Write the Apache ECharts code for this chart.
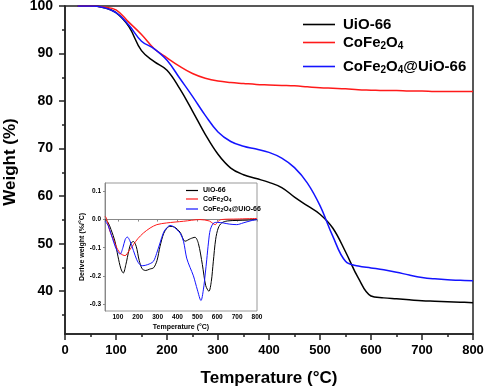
<!DOCTYPE html>
<html>
<head>
<meta charset="utf-8">
<script src="https://cdn.jsdelivr.net/npm/echarts@6/dist/echarts.min.js"></script>
<style>
  html, body { margin: 0; padding: 0; background: #fff; }
  #TgaChart { width: 484px; height: 388px; }
</style>
</head>
<body>
<div id="TgaChart"></div>
<script>
// main TGA curves (weight %, sampled every 25 °C)
const tgaTemp = [25, 50, 75, 100, 125, 150, 175, 200, 225, 250, 275, 300, 325, 350, 375, 400,
  425, 450, 475, 500, 525, 550, 575, 600, 625, 650, 675, 700, 725, 750, 775, 800];
const tgaUio = [100, 100, 99.7, 98.6, 95.7, 90.6, 88.3, 86.5, 82.6, 77.9, 73.0, 68.8, 65.9, 64.5, 63.7, 62.9,
  61.8, 59.8, 58.0, 56.2, 53.3, 48.3, 42.8, 39.0, 38.6, 38.4, 38.2, 38.0, 37.9, 37.8, 37.7, 37.6];
const tgaCfo = [100, 100, 99.8, 99.2, 96.6, 94.0, 91.0, 89.1, 87.3, 85.8, 84.8, 84.2, 83.9, 83.7, 83.5, 83.4,
  83.3, 83.2, 83.0, 82.8, 82.7, 82.6, 82.4, 82.3, 82.2, 82.2, 82.1, 82.1, 82.0, 82.0, 82.0, 82.0];
const tgaComp = [100, 100, 99.7, 98.6, 96.0, 92.6, 91.0, 88.6, 84.8, 81.0, 77.0, 73.5, 71.5, 70.5, 69.9, 69.2,
  68.0, 66.0, 62.8, 58.0, 51.6, 46.3, 45.3, 44.9, 44.5, 44.0, 43.4, 42.9, 42.6, 42.4, 42.3, 42.2];

// inset DTG curves, [temperature, %/°C]
const dtgUio = [[35, 0], [50, -0.01], [65, -0.035], [85, -0.077], [100, -0.13], [115, -0.175], [127, -0.19],
  [140, -0.16], [155, -0.11], [165, -0.085], [178, -0.078], [192, -0.095], [207, -0.145], [222, -0.175],
  [240, -0.181], [260, -0.176], [280, -0.171], [297, -0.145], [312, -0.095], [330, -0.05], [347, -0.03],
  [362, -0.024], [385, -0.027], [413, -0.045], [438, -0.077], [465, -0.068], [488, -0.063], [505, -0.085],
  [525, -0.16], [542, -0.235], [558, -0.255], [570, -0.22], [580, -0.15], [592, -0.07], [605, -0.03],
  [622, -0.012], [650, -0.005], [700, -0.003], [750, -0.002], [800, 0]];
const dtgCfo = [[35, 0.012], [42, 0.005], [60, -0.042], [78, -0.072], [94, -0.1], [115, -0.122], [136, -0.128],
  [155, -0.112], [178, -0.089], [200, -0.068], [228, -0.048], [262, -0.03], [296, -0.018], [345, -0.012],
  [430, -0.006], [513, 0], [560, -0.005], [578, -0.014], [590, -0.018], [602, -0.008], [620, 0],
  [700, 0.002], [800, 0.004]];
const dtgComp = [[35, -0.005], [50, -0.02], [65, -0.05], [80, -0.083], [95, -0.11], [111, -0.123],
  [125, -0.1], [137, -0.07], [147, -0.062], [160, -0.075], [178, -0.11], [195, -0.143], [210, -0.16],
  [225, -0.164], [250, -0.16], [278, -0.149], [295, -0.12], [312, -0.083], [330, -0.045], [345, -0.03],
  [362, -0.021], [380, -0.025], [396, -0.036], [413, -0.048], [430, -0.077], [446, -0.137], [463, -0.17],
  [480, -0.2], [500, -0.25], [518, -0.288], [530, -0.25], [540, -0.19], [547, -0.143], [556, -0.08],
  [565, -0.036], [582, -0.012], [600, -0.01], [630, -0.012], [660, -0.016], [698, -0.018], [730, -0.012],
  [770, -0.004], [800, 0]];

// tick labels
const mainYTicks = [40, 50, 60, 70, 80, 90, 100];
const mainYMinor = [35, 45, 55, 65, 75, 85, 95];
const insetXTicks = [100, 200, 300, 400, 500, 600, 700, 800];
const insetYTicks = [-0.3, -0.2, -0.1, 0, 0.1];

const FONT = "'Liberation Sans', Arial, sans-serif";
const COLORS = { "UiO-66": "#000000", "CoFe2O4": "#ff1a1a", "CoFe2O4@UiO-66": "#1414ff" };

// CoFe2O4 names with subscripts via rich text
function subName(name) {
  return name
    .replace("CoFe2O4", "{a|CoFe}{s|2}{a|O}{s|4}{a|")
    .replace(/^(?!\{)/, "{a|") + "}";
}
function richFor(size, lh, subSize, subLh) {
  return {
    a: { fontSize: size, fontWeight: "bold", fontFamily: FONT, color: "#000", lineHeight: lh },
    s: { fontSize: subSize, fontWeight: "bold", fontFamily: FONT, color: "#000", lineHeight: subLh, verticalAlign: "bottom" },
  };
}
function legendItem(name, left, top, big) {
  return {
    data: [{ name: name, itemStyle: { color: COLORS[name], borderWidth: 0 } }],
    left: left,
    top: top,
    orient: "vertical",
    icon: "rect",
    itemWidth: big ? 32 : 12,
    itemHeight: big ? 1.6 : 1.2,
    padding: 0,
    formatter: subName,
    textStyle: {
      padding: [0, 0, 0, big ? 3 : 0],
      rich: big ? richFor(15, 18, 10, 8) : richFor(7, 9, 5, 4),
    },
  };
}

const el = document.getElementById("TgaChart");
const chart = echarts.init(el, null, { renderer: "canvas" });

const mainLine = { color: "#222", width: 1.5 };
const insetLine = { color: "#888", width: 1 };

function tgaSeries(name, values) {
  return {
    name: name,
    type: "line",
    xAxisIndex: 0,
    yAxisIndex: 0,
    smooth: 0.4,
    showSymbol: false,
    color: COLORS[name],
    lineStyle: { width: 1.5 },
    data: tgaTemp.map((t, i) => [t, values[i]]),
  };
}
function dtgSeries(name, points) {
  return {
    name: name,
    type: "line",
    xAxisIndex: 1,
    yAxisIndex: 2,
    smooth: 0.3,
    showSymbol: false,
    color: COLORS[name],
    lineStyle: { width: 1 },
    data: points,
  };
}

const options = {
  animation: false,
  backgroundColor: "#fff",
  grid: [
    { left: 65, top: 6, right: 11, bottom: 54, outerBoundsMode: "none", containLabel: false, show: true, borderColor: "#222", borderWidth: 1.5 },
    { left: 105, top: 183, width: 152, bottom: 77, outerBoundsMode: "none", containLabel: false, show: true, backgroundColor: "#fff", borderColor: "#999", borderWidth: 1 },
  ],
  legend: [
    legendItem("UiO-66", 303, 17, true),
    legendItem("CoFe2O4", 303, 35, true),
    legendItem("CoFe2O4@UiO-66", 303, 59, true),
    legendItem("UiO-66", 186, 187, false),
    legendItem("CoFe2O4", 186, 195.5, false),
    legendItem("CoFe2O4@UiO-66", 186, 205.5, false),
  ],
  xAxis: [
    {
      type: "value",
      gridIndex: 0,
      min: 0,
      max: 800,
      interval: 100,
      axisLine: { lineStyle: mainLine },
      axisTick: { length: 6, lineStyle: mainLine },
      minorTick: { show: true, splitNumber: 2, length: 3, lineStyle: mainLine },
      splitLine: { show: false },
      axisLabel: { fontSize: 13, fontWeight: "bold", fontFamily: FONT, color: "#000", margin: 10 },
      name: "Temperature (°C)",
      nameLocation: "middle",
      nameGap: 36,
      nameTextStyle: { fontSize: 17, fontWeight: "bold", fontFamily: FONT, color: "#000" },
    },
    {
      type: "value",
      gridIndex: 1,
      min: 35,
      max: 800,
      axisLine: { lineStyle: insetLine },
      axisTick: { length: 2, customValues: insetXTicks, lineStyle: insetLine },
      splitLine: { show: false },
      axisLabel: { customValues: insetXTicks, fontSize: 6.5, fontWeight: "bold", fontFamily: FONT, color: "#000", margin: 3 },
      name: "Temperature (°C)",
      nameLocation: "middle",
      nameGap: 13,
      nameTextStyle: { fontSize: 7, fontWeight: "bold", fontFamily: FONT, color: "#000" },
    },
  ],
  yAxis: [
    {
      type: "value",
      gridIndex: 0,
      position: "left",
      min: 31,
      max: 100,
      axisLine: { show: true, lineStyle: mainLine },
      axisTick: { show: true, length: 6, customValues: mainYTicks, lineStyle: mainLine },
      splitLine: { show: false },
      axisLabel: { customValues: mainYTicks, fontSize: 14, fontWeight: "bold", fontFamily: FONT, color: "#000", margin: 12 },
      name: "Weight (%)",
      nameLocation: "middle",
      nameGap: 40,
      nameRotate: 90,
      nameTextStyle: { fontSize: 17, fontWeight: "bold", fontFamily: FONT, color: "#000", padding: [0, 0, 0, 16] },
    },
    {
      // minor ticks only
      type: "value",
      gridIndex: 0,
      position: "left",
      min: 31,
      max: 100,
      axisLine: { show: false },
      axisTick: { show: true, length: 3, customValues: mainYMinor, lineStyle: mainLine },
      axisLabel: { show: false },
      splitLine: { show: false },
    },
    {
      type: "value",
      gridIndex: 1,
      position: "left",
      min: -0.325,
      max: 0.13,
      axisLine: { show: true, lineStyle: insetLine },
      axisTick: { show: true, length: 2, customValues: insetYTicks, lineStyle: insetLine },
      splitLine: { show: false },
      axisLabel: {
        customValues: insetYTicks,
        formatter: (v) => v.toFixed(1),
        fontSize: 6.5,
        fontWeight: "bold",
        fontFamily: FONT,
        color: "#000",
        margin: 4,
      },
      name: "Derive weight (%/°C)",
      nameLocation: "middle",
      nameGap: 17,
      nameRotate: 90,
      nameTextStyle: { fontSize: 7, fontWeight: "bold", fontFamily: FONT, color: "#000" },
    },
  ],
  series: [
    tgaSeries("UiO-66", tgaUio),
    tgaSeries("CoFe2O4", tgaCfo),
    tgaSeries("CoFe2O4@UiO-66", tgaComp),
    dtgSeries("UiO-66", dtgUio),
    dtgSeries("CoFe2O4", dtgCfo),
    dtgSeries("CoFe2O4@UiO-66", dtgComp),
  ],
};
chart.setOption(options);
</script>
</body>
</html>
